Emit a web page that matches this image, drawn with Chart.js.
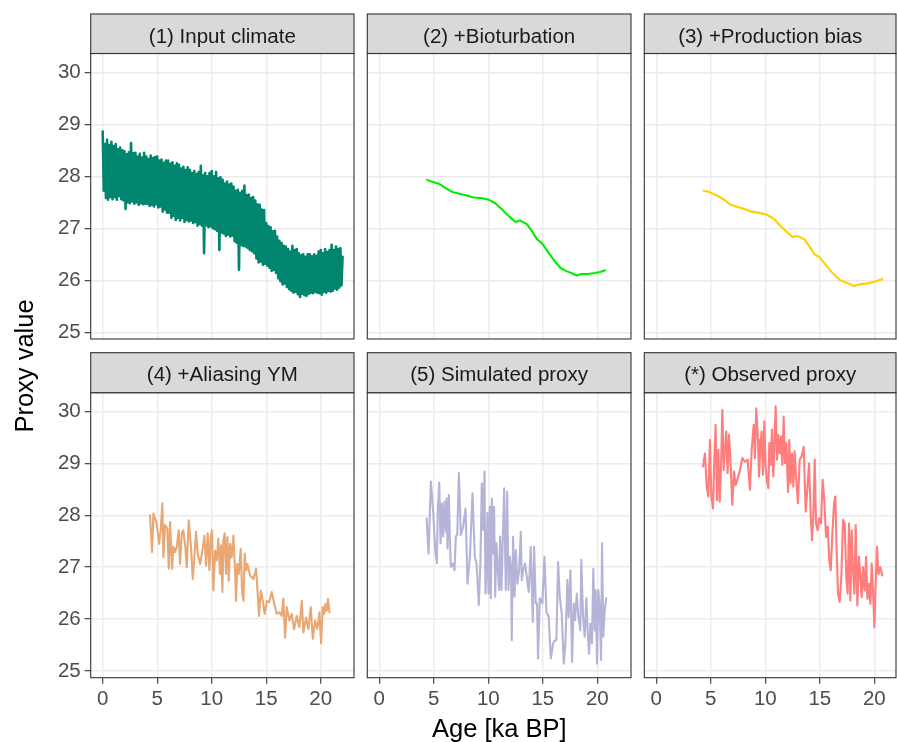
<!DOCTYPE html>
<html><head><meta charset="utf-8">
<script src="https://cdn.jsdelivr.net/npm/chart.js@4/dist/chart.umd.min.js"></script>
<style>
html,body{margin:0;padding:0;background:#fff;}
#wrap{position:relative;width:897px;height:742px;overflow:hidden;background:#fff;font-family:"Liberation Sans",Arial,sans-serif;}
#wrap canvas{position:absolute;}
.axtitle{position:absolute;color:#000;font-size:25.5px;line-height:30px;height:30px;text-align:center;white-space:nowrap;z-index:5;}
</style></head><body>
<div id="wrap">
<div class="axtitle" id="ytitle" style="left:-125.8px;top:350.6px;width:300px;transform:rotate(-90deg);">Proxy value</div>
<div class="axtitle" id="xtitle" style="left:299.3px;top:712.7px;width:400px;">Age [ka BP]</div>
</div>
<script>
// ---------------- DATA ----------------
const panelTitles = ["(1) Input climate", "(2) +Bioturbation", "(3) +Production bias",
                     "(4) +Aliasing YM", "(5) Simulated proxy", "(*) Observed proxy"];
const panelColors = ["#00856E", "#00EE00", "#FFD000", "#E9A873", "#B4B4D8", "#FF7D7D"];
const xTickValues = [0, 5, 10, 15, 20];
const yTickValues = [25, 26, 27, 28, 29, 30];

// (1) input climate, regular age grid
const climateAgeStart = 0, climateAgeStep = 0.1;
const climateValues = [
 28.86,27.72,28.62,27.58,28.7,27.55,28.6,27.6,28.66,27.56,
 28.58,27.6,28.62,27.55,28.52,27.62,28.55,27.56,28.5,27.54,
 28.48,27.37,28.42,27.5,28.46,27.48,28.64,27.52,28.44,27.47,
 28.45,27.5,28.38,27.45,28.43,27.48,28.36,27.46,28.45,27.47,
 28.38,27.47,28.33,27.43,28.4,27.45,28.35,27.42,28.37,27.46,
 28.38,27.4,28.3,27.42,28.32,27.32,28.26,27.36,28.3,27.3,
 28.3,27.3,28.24,27.2,28.27,27.24,28.2,27.16,28.25,27.2,
 28.22,27.15,28.15,27.2,28.18,27.12,28.12,27.16,28.17,27.13,
 28.12,27.15,28.06,27.1,28.1,27.12,28.04,27.05,28.08,27.08,
 28.2,27.05,28.02,26.52,28.06,27.06,28.0,27.02,28.06,27.04,
 28.1,27.0,28.0,26.98,28.08,26.95,27.96,26.58,27.98,26.92,
 27.93,26.9,27.86,26.85,27.9,26.88,27.84,26.84,27.86,26.86,
 27.8,26.75,27.72,26.72,27.74,26.2,27.68,26.68,27.72,26.66,
 27.82,26.65,27.64,26.62,27.65,26.58,27.58,26.56,27.6,26.52,
 27.53,26.42,27.46,26.34,27.45,26.36,27.36,26.3,27.35,26.32,
 27.1,26.28,27.04,26.24,27.02,26.18,26.94,26.2,26.95,26.14,
 26.84,26.04,26.76,25.98,26.72,25.92,26.66,25.94,26.65,25.87,
 26.6,25.83,26.55,25.8,26.66,25.76,26.58,25.78,26.6,25.73,
 26.52,25.68,26.48,25.74,26.5,25.71,26.45,25.7,26.5,25.74,
 26.5,25.76,26.46,25.75,26.5,25.78,26.47,25.76,26.55,25.75,
 26.58,25.72,26.52,25.78,26.6,25.76,26.54,25.8,26.58,25.78,
 26.68,25.8,26.58,25.84,26.65,25.82,26.6,25.86,26.62,25.9,
 26.45
];

// (2) +Bioturbation
const bioAges = [4.38,4.91,5.54,6.17,6.79,7.42,8.04,8.67,9.3,10.02,10.64,11.17,11.64,12.11,12.52,12.9,13.52,13.99,14.46,14.93,15.4,16.03,16.65,17.12,17.59,18.12,18.53,19.15,19.78,20.25,20.72];
const bioValues = [27.93,27.89,27.85,27.76,27.69,27.66,27.63,27.59,27.58,27.55,27.48,27.38,27.28,27.19,27.12,27.15,27.08,26.95,26.79,26.71,26.57,26.38,26.23,26.18,26.14,26.09,26.12,26.12,26.14,26.16,26.19];

// (3) +Production bias
const prodAges = [4.33,4.95,5.74,6.21,6.83,7.3,7.93,8.71,9.34,10.13,10.75,11.22,11.85,12.48,12.95,13.57,14.04,14.51,14.98,15.45,16.08,16.87,17.49,18.12,18.59,19.37,19.99,20.72];
const prodValues = [27.72,27.69,27.61,27.55,27.45,27.42,27.38,27.32,27.3,27.26,27.19,27.08,26.95,26.83,26.85,26.79,26.65,26.5,26.44,26.32,26.16,26.0,25.95,25.89,25.92,25.94,25.97,26.02];

// (4) +Aliasing YM
const aliasAges = [4.34,4.53,4.65,4.95,5.17,5.32,5.47,5.57,5.72,5.93,6.06,6.18,6.36,6.48,6.64,6.79,6.97,7.09,7.25,7.4,7.58,7.71,7.89,8.1,8.26,8.41,8.56,8.72,8.93,9.17,9.33,9.48,9.63,9.79,9.91,10.03,10.15,10.31,10.46,10.61,10.76,10.86,10.98,11.07,11.19,11.31,11.44,11.56,11.68,11.83,11.99,12.14,12.23,12.35,12.48,12.66,12.78,12.91,13.03,13.15,13.27,13.52,13.82,14.07,14.22,14.34,14.5,14.68,14.86,15.05,15.26,15.5,15.72,15.96,16.21,16.42,16.57,16.73,16.88,17.13,17.34,17.55,17.8,18.04,18.26,18.41,18.65,18.87,19.08,19.27,19.48,19.69,19.88,20.03,20.18,20.31,20.43,20.55,20.67,20.8];
const aliasValues = [28.0,27.29,28.03,27.84,27.45,27.71,28.23,27.19,27.81,27.74,26.97,27.87,26.97,27.39,27.29,27.39,27.71,27.06,27.65,27.71,27.39,27.0,27.9,27.39,26.77,27.19,27.68,27.26,27.06,27.35,27.61,27.03,27.65,26.94,27.58,27.71,26.55,27.32,27.13,27.55,26.87,27.42,26.52,27.52,27.65,26.87,27.58,26.74,27.45,27.19,27.61,26.94,26.35,27.06,26.87,27.35,26.55,26.35,27.26,26.94,27.06,26.84,26.77,26.97,26.48,26.06,26.55,26.35,26.1,26.35,26.32,26.52,26.32,26.1,26.13,26.06,26.39,25.64,26.23,25.97,26.1,25.8,26.06,25.84,26.35,25.74,26.03,25.81,26.23,25.62,25.97,25.81,26.13,25.53,26.23,26.1,26.29,26.16,26.39,26.13];

// (5) Simulated proxy
const simAges = [4.34,4.52,4.73,4.95,5.13,5.28,5.37,5.5,5.62,5.74,5.86,5.98,6.11,6.17,6.26,6.38,6.47,6.56,6.72,6.9,7.02,7.15,7.3,7.48,7.69,7.91,8.09,8.31,8.55,8.76,8.92,9.13,9.28,9.4,9.53,9.65,9.74,9.83,9.92,10.02,10.14,10.23,10.32,10.44,10.53,10.63,10.75,10.87,10.99,11.08,11.21,11.33,11.45,11.6,11.73,11.85,11.97,12.09,12.15,12.27,12.4,12.52,12.67,12.82,12.98,13.07,13.19,13.37,13.53,13.71,13.89,14.08,14.2,14.35,14.47,14.56,14.72,14.96,15.15,15.33,15.54,15.73,15.94,16.12,16.24,16.4,16.55,16.73,16.92,17.07,17.25,17.37,17.53,17.68,17.83,17.95,18.11,18.26,18.44,18.53,18.69,18.84,18.99,19.11,19.24,19.36,19.51,19.63,19.76,19.85,19.97,20.09,20.21,20.34,20.43,20.55,20.67,20.82];
const simValues = [27.94,27.26,28.65,28.04,27.33,27.07,28.13,28.63,27.46,28.23,27.59,28.26,27.68,28.32,27.36,28.39,27.59,27.01,27.07,26.94,27.59,27.62,28.81,27.62,27.78,28.13,26.68,27.2,28.42,27.2,27.07,26.27,27.14,28.61,27.71,28.84,26.49,26.94,28.04,26.49,28.16,26.4,28.32,27.26,28.16,26.43,27.46,26.94,26.56,27.59,26.56,27.59,28.52,26.56,28.45,26.56,27.2,26.94,25.59,27.59,26.43,27.33,26.68,26.94,27.68,26.75,26.94,27.07,26.81,26.52,27.39,25.95,27.39,26.3,26.3,25.24,26.4,26.3,27.2,26.14,26.04,25.24,25.53,25.59,25.59,27.1,26.43,26.11,25.14,25.53,26.75,26.04,26.94,25.17,26.3,25.98,26.49,26.04,25.78,27.14,26.04,25.66,26.4,25.78,25.33,25.91,25.53,26.97,25.78,26.56,25.14,26.56,26.23,25.21,27.46,25.66,26.17,26.4];

// (*) Observed proxy
const obsAges = [4.28,4.46,4.62,4.77,4.92,5.05,5.2,5.32,5.44,5.57,5.69,5.81,5.93,6.06,6.18,6.3,6.42,6.54,6.67,6.79,6.97,7.13,7.28,7.46,7.68,7.89,8.13,8.38,8.59,8.75,8.93,9.05,9.17,9.33,9.42,9.54,9.66,9.79,9.91,10.03,10.15,10.28,10.37,10.49,10.61,10.73,10.86,10.95,11.07,11.19,11.31,11.44,11.56,11.68,11.8,11.93,12.08,12.2,12.32,12.45,12.57,12.69,12.84,12.99,13.15,13.33,13.52,13.7,13.85,14.01,14.16,14.28,14.4,14.53,14.65,14.8,14.92,15.11,15.26,15.41,15.57,15.72,15.87,16.0,16.15,16.3,16.42,16.54,16.67,16.82,16.97,17.13,17.28,17.43,17.55,17.68,17.8,17.92,18.04,18.17,18.29,18.44,18.59,18.72,18.84,18.96,19.11,19.24,19.36,19.51,19.63,19.76,19.88,20.0,20.12,20.24,20.37,20.55,20.73];
const obsValues = [28.94,29.19,28.55,28.36,29.45,28.36,28.13,29.07,29.74,28.29,29.26,28.26,28.87,30.03,28.87,29.26,29.61,28.81,29.55,29.13,28.2,28.84,28.58,28.71,28.87,29.1,29.03,29.07,28.49,29.26,29.74,29.1,30.06,29.45,28.74,29.26,29.61,28.78,29.81,28.94,28.65,28.52,29.39,28.97,29.65,28.74,29.52,30.1,29.07,29.55,29.19,29.52,28.97,29.9,29.0,29.39,28.45,29.45,28.61,29.19,28.55,29.23,28.68,28.23,29.07,29.13,29.32,28.07,28.49,29.0,28.03,27.52,27.97,29.07,27.84,27.71,27.94,27.84,28.68,28.29,27.58,27.78,27.13,26.94,27.65,28.23,28.36,27.33,26.49,26.33,26.81,27.91,27.84,26.81,26.49,27.84,26.36,27.71,26.94,26.49,27.81,26.26,27.2,26.81,26.42,27.0,26.55,27.2,26.39,26.68,26.29,27.07,26.55,25.84,26.68,27.39,26.87,27.0,26.84];

// ---------------- LAYOUT ----------------
const colLeft = [90.7, 367.3, 644.3];
const colRight = [354, 631, 896];
const stripTop = [14, 352.7];
const panelTop = [53.5, 392.7];
const panelBottom = [339, 677.7];
const axisBottom = 716;
const pxPerKa = (colRight[0] - colLeft[0]) / 24.15;
const xMin = -1.1;
const yMin = 24.87, yMax = 30.36;
const FONT = '"Liberation Sans", Arial, Helvetica, sans-serif';

const panelDecor = {
  id: 'panelDecor',
  afterDraw(chart, args, opts) {
    const ctx = chart.ctx, a = chart.chartArea;
    ctx.save();
    ctx.strokeStyle = '#333333';
    ctx.lineWidth = 1.1;
    ctx.strokeRect(a.left, a.top, a.right - a.left, a.bottom - a.top);
    const sTop = a.top - opts.stripHeight;
    ctx.fillStyle = '#D9D9D9';
    ctx.fillRect(a.left, sTop, a.right - a.left, opts.stripHeight);
    ctx.strokeRect(a.left, sTop, a.right - a.left, opts.stripHeight);
    ctx.fillStyle = '#1A1A1A';
    ctx.font = '20.5px ' + FONT;
    ctx.textAlign = 'center';
    ctx.textBaseline = 'alphabetic';
    ctx.fillText(opts.label, (a.left + a.right) / 2, sTop + 28.5);
    ctx.restore();
  }
};

const wrap = document.getElementById('wrap');
const firstTitle = document.getElementById('ytitle');

function makePanel(idx, ages, values) {
  const r = Math.floor(idx / 3), c = idx % 3;
  const cx = c === 0 ? 0 : Math.floor(colLeft[c]) - 2;
  const cy = Math.floor(stripTop[r]) - 2;
  const cw = Math.ceil(colRight[c] + 2 - cx);
  const bottom = r === 1 ? axisBottom : panelBottom[r] + 2;
  const ch = Math.ceil(bottom - cy);
  const canvas = document.createElement('canvas');
  canvas.width = cw; canvas.height = ch;
  canvas.style.left = cx + 'px'; canvas.style.top = cy + 'px';
  canvas.style.width = cw + 'px'; canvas.style.height = ch + 'px';
  wrap.insertBefore(canvas, firstTitle);

  const padLeft = c === 0 ? 0 : colLeft[c] - cx;
  const yAxisW = c === 0 ? colLeft[0] - cx : 0;
  const padTop = panelTop[r] - cy;
  const padRight = cw - (colRight[c] - cx);
  const xAxisH = r === 1 ? ch - (panelBottom[r] - cy) : 0;
  const padBottom = r === 1 ? 0 : ch - (panelBottom[r] - cy);
  const xMax = xMin + (colRight[c] - colLeft[c]) / pxPerKa;

  const pts = ages.map((a, i) => ({x: a, y: values[i]}));

  new Chart(canvas, {
    type: 'line',
    data: { datasets: [{
      data: pts, borderColor: panelColors[idx], borderWidth: idx === 0 ? 2.6 : 2.1,
      pointRadius: 0, tension: 0, fill: false, borderJoinStyle: 'round', borderCapStyle: 'round'
    }]},
    options: {
      responsive: false, animation: false, devicePixelRatio: 1,
      events: [],
      layout: { padding: { left: padLeft, right: padRight, top: padTop, bottom: padBottom } },
      plugins: {
        legend: { display: false }, tooltip: { enabled: false }, title: { display: false },
        panelDecor: { label: panelTitles[idx], stripHeight: panelTop[r] - stripTop[r] }
      },
      scales: {
        x: {
          type: 'linear', min: xMin, max: xMax, bounds: 'data',
          afterBuildTicks: ax => { ax.ticks = xTickValues.map(v => ({value: v})); },
          afterFit: ax => { ax.height = xAxisH; ax.paddingLeft = 0; ax.paddingRight = 0; },
          ticks: { display: r === 1, padding: 3, maxRotation: 0, autoSkip: false,
                   color: '#4D4D4D', font: { family: FONT, size: 20.5 } },
          grid: { color: '#EBEBEB', lineWidth: 1.4, drawTicks: r === 1, tickLength: r === 1 ? 6 : 0,
                  tickColor: '#333333', tickWidth: 1.1 },
          border: { display: false }
        },
        y: {
          type: 'linear', min: yMin, max: yMax, bounds: 'data',
          afterBuildTicks: ax => { ax.ticks = yTickValues.map(v => ({value: v})); },
          afterFit: ax => { ax.width = yAxisW; ax.paddingTop = 0; ax.paddingBottom = 0; },
          ticks: { display: c === 0, padding: 4, autoSkip: false,
                   color: '#4D4D4D', font: { family: FONT, size: 20.5 } },
          grid: { color: '#EBEBEB', lineWidth: 1.4, drawTicks: c === 0, tickLength: c === 0 ? 6 : 0,
                  tickColor: '#333333', tickWidth: 1.1 },
          border: { display: false }
        }
      }
    },
    plugins: [panelDecor]
  });
}

const climateAges = climateValues.map((v, i) => climateAgeStart + i * climateAgeStep);
makePanel(0, climateAges, climateValues);
makePanel(1, bioAges, bioValues);
makePanel(2, prodAges, prodValues);
makePanel(3, aliasAges, aliasValues);
makePanel(4, simAges, simValues);
makePanel(5, obsAges, obsValues);
</script>
</body></html>
